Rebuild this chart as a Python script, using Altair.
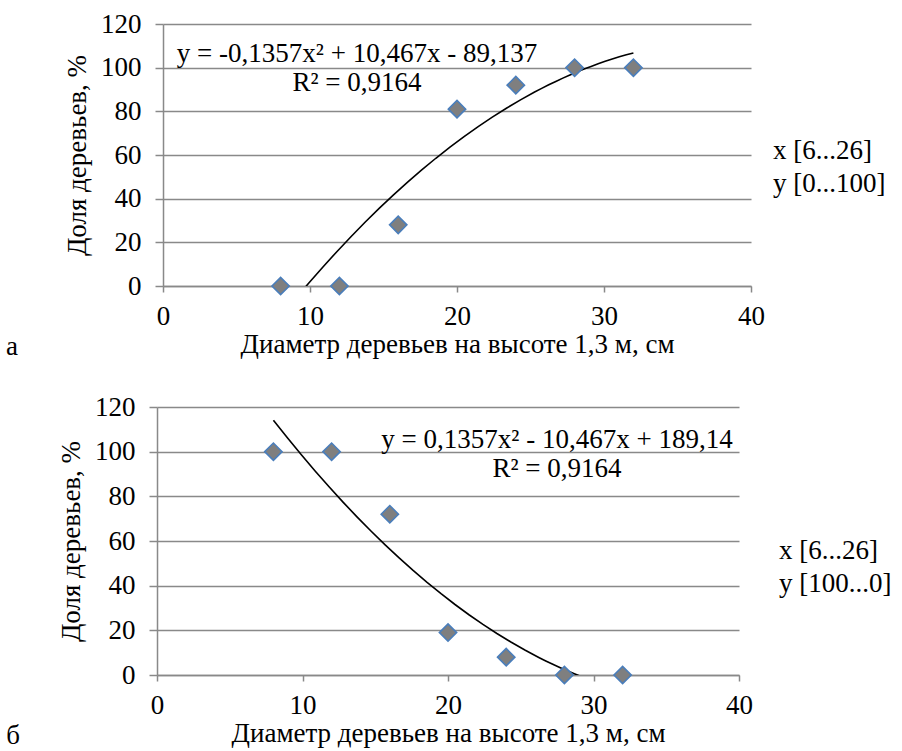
import altair as alt
import pandas as pd

# ---- data ----
diameters = [8, 12, 16, 20, 24, 28, 32]
share_a = [0, 0, 28, 81, 92, 100, 100]
share_b = [100, 100, 72, 19, 8, 0, 0]
x_ticks = [0, 10, 20, 30, 40]
y_ticks = [0, 20, 40, 60, 80, 100, 120]

x_title = "Диаметр деревьев на высоте 1,3 м, см"
y_title = "Доля деревьев, %"
eq_a = ["y = -0,1357x² + 10,467x - 89,137", "R² = 0,9164"]
eq_b = ["y = 0,1357x² - 10,467x + 189,14", "R² = 0,9164"]
range_a = ["x [6...26]", "y [0...100]"]
range_b = ["x [6...26]", "y [100...0]"]
letter_a = "а"
letter_b = "б"

FONT = "Liberation Serif"
FS = 27
GRID = "#898989"


def panel(values, eq, ranges, letter, w, h, eq_xy, range_xy, letter_xy):
    df = pd.DataFrame({"d": diameters, "p": values})
    x = alt.X(
        "d:Q",
        scale=alt.Scale(domain=[0, 40], nice=False, zero=False),
        axis=alt.Axis(values=x_ticks, title=x_title, grid=False, labelFlush=False,
                      labelPadding=11, titlePadding=2, tickSize=6),
    )
    y = alt.Y(
        "p:Q",
        scale=alt.Scale(domain=[0, 120], nice=False),
        axis=alt.Axis(values=y_ticks, title=y_title, grid=True,
                      labelPadding=14, titlePadding=9, tickSize=8),
    )
    trend = (
        alt.Chart(df)
        .transform_regression("d", "p", method="poly", order=2)
        .mark_line(color="black", strokeWidth=1.6, clip=True)
        .encode(x=x, y=y)
    )
    pts = (
        alt.Chart(df)
        .mark_point(shape="diamond", filled=True, fill="#7f7f7f", stroke="#4a7ebb",
                    strokeWidth=1.6, size=300, opacity=1)
        .encode(x=x, y=y)
    )
    one = pd.DataFrame({"k": [0]})
    eq_text = alt.Chart(one).mark_text(
        text=eq, font=FONT, fontSize=FS, align="center", baseline="alphabetic",
        lineHeight=29, color="black",
    ).encode(x=alt.value(eq_xy[0]), y=alt.value(eq_xy[1]))
    rng_text = alt.Chart(one).mark_text(
        text=ranges, font=FONT, fontSize=FS, align="left", baseline="alphabetic",
        lineHeight=33, color="black",
    ).encode(x=alt.value(range_xy[0]), y=alt.value(range_xy[1]))
    let_text = alt.Chart(one).mark_text(
        text=letter, font=FONT, fontSize=FS, align="center", baseline="alphabetic",
        color="black",
    ).encode(x=alt.value(letter_xy[0]), y=alt.value(letter_xy[1]))
    return alt.layer(trend, pts, eq_text, rng_text, let_text).properties(width=w, height=h)


top = panel(share_a, eq_a, range_a, letter_a, 588, 262, (194, 38), (610, 135), (-151, 331))
bottom = panel(share_b, eq_b, range_b, letter_b, 582, 268, (400, 41), (622, 152), (-144, 337))

chart = (
    alt.vconcat(top, bottom, spacing=31, center=True)
    .properties(padding={"left": 5, "top": 9, "right": 0, "bottom": 0})
    .configure_view(stroke="transparent")
    .configure_axis(
        labelFont=FONT, labelFontSize=FS, labelColor="black",
        titleFont=FONT, titleFontSize=FS, titleFontWeight="normal", titleColor="black",
        domainColor=GRID, domainWidth=1.5, tickColor=GRID, tickWidth=1.5,
        gridColor=GRID, gridWidth=1.5, gridOpacity=1,
    )
)

chart.save("out.html", embed_options={"renderer": "svg", "actions": False})
